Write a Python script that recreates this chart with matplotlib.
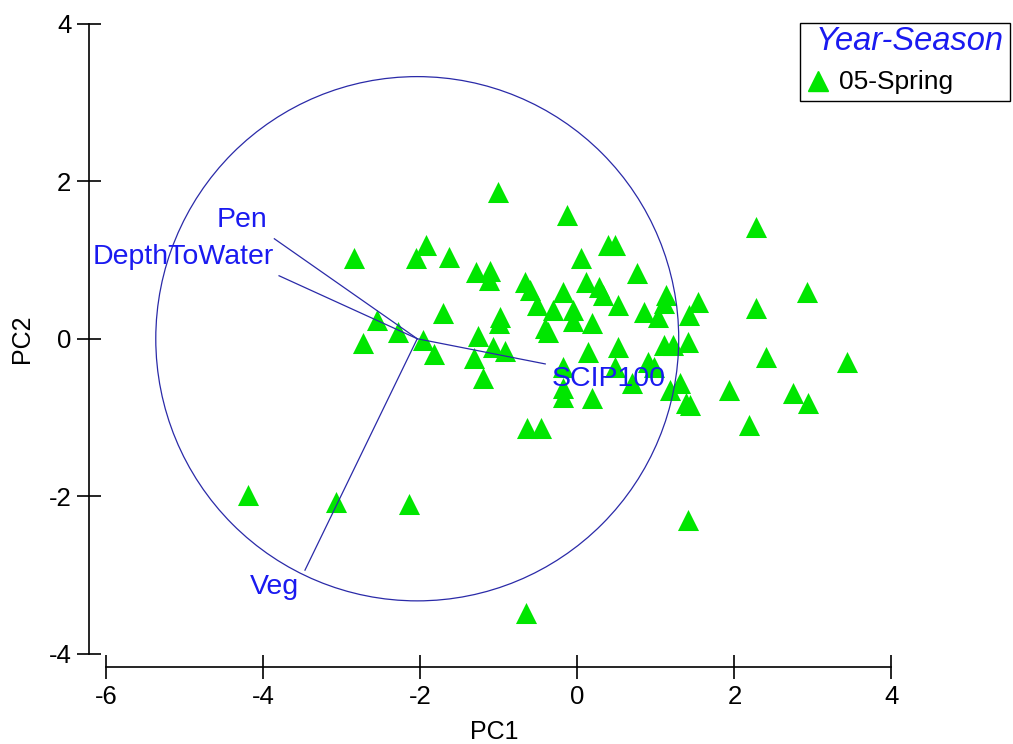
import matplotlib
matplotlib.use("Agg")
import matplotlib.pyplot as plt
from matplotlib.patches import Circle, Rectangle
import numpy as np

plt.rcParams['font.family'] = ['Liberation Sans', 'DejaVu Sans']
plt.rcParams['axes.unicode_minus'] = False

# PCA scores, 05-Spring
pc1 = [-1.01, -0.13, 2.27, 0.39, 0.48, -1.93, -2.05, -2.85, -1.63, 0.04,
       -1.29, -1.11, -1.13, 0.76, -0.67, -0.60, 0.11, 0.27, 0.32, -0.18,
       1.13, 1.10, 1.54, 2.92, 0.52, -0.51, -0.31, -0.06, 0.85, 1.02,
       1.42, 2.27, -1.71, -0.99, -1.00, -2.55, 0.19, -0.05, -0.41, -0.37,
       -2.29, -2.73, -1.97, -1.27, -1.83, -1.07, -0.92, -1.32, 0.14, 0.52,
       1.10, 1.22, 1.41, 2.40, 3.43, -1.20, -0.18, 0.48, 0.90, 0.97,
       0.70, 1.18, 1.31, 1.93, 2.75, 2.94, -0.19, -0.18, 0.19, 1.38,
       1.44, 2.18, -0.64, -0.47, -4.19, -3.08, -2.14, 1.41, -0.66]
pc2 = [1.87, 1.57, 1.42, 1.19, 1.19, 1.19, 1.02, 1.02, 1.04, 1.03,
       0.85, 0.86, 0.75, 0.84, 0.72, 0.62, 0.72, 0.66, 0.56, 0.60,
       0.56, 0.46, 0.47, 0.60, 0.43, 0.43, 0.37, 0.37, 0.34, 0.28,
       0.30, 0.39, 0.33, 0.28, 0.20, 0.24, 0.20, 0.22, 0.14, 0.08,
       0.09, -0.05, -0.02, 0.03, -0.20, -0.11, -0.16, -0.24, -0.17, -0.10,
       -0.08, -0.08, -0.04, -0.23, -0.29, -0.50, -0.36, -0.36, -0.29, -0.36,
       -0.56, -0.65, -0.56, -0.65, -0.69, -0.81, -0.74, -0.62, -0.75, -0.81,
       -0.84, -1.09, -1.13, -1.13, -1.98, -2.07, -2.10, -2.30, -3.48]

# loading vectors (origin at circle centre)
origin = (-2.04, 0.0)
vec_names = ['Pen', 'DepthToWater', 'SCIP100', 'Veg']
vec_x = [-3.86, -3.80, -0.41, -3.47]
vec_y = [1.27, 0.80, -0.32, -2.94]
radius = 3.33

# label anchor for each vector name
lab_x = [-3.95, -3.86, -0.33, -3.54]
lab_y = [1.51, 1.04, -0.51, -3.15]
lab_ha = ['right', 'right', 'left', 'right']

legend_title = 'Year-Season'
legend_label = '05-Spring'

line_col = '#2a2aa8'
text_col = '#1a1af0'
green = '#00e600'

W, H = 1013, 744
fig = plt.figure(figsize=(W / 100, H / 100), dpi=100)
ax = fig.add_axes([0.0879, 0.1035, 0.8154, 0.875])

ax.scatter(pc1, pc2, marker='^', s=230, color=green, linewidths=0, zorder=2)

ax.add_patch(Circle(origin, radius, fill=False, edgecolor=line_col, lw=0.9, zorder=3))
for vx, vy in zip(vec_x, vec_y):
    ax.plot([origin[0], vx], [origin[1], vy], color=line_col, lw=0.9, zorder=3)

for name, tx, ty, ha in zip(vec_names, lab_x, lab_y, lab_ha):
    ax.text(tx, ty, name, color=text_col, fontsize=20.5, ha=ha, va='center', zorder=4)

ax.set_xlim(-6.22, 4.3)
ax.set_ylim(-4.17, 4.1)
ax.set_xticks([-6, -4, -2, 0, 2, 4])
ax.set_yticks([-4, -2, 0, 2, 4])

for side in ['top', 'right']:
    ax.spines[side].set_visible(False)
ax.spines['left'].set_bounds(-4, 4)
ax.spines['bottom'].set_bounds(-6, 4)
for side in ['left', 'bottom']:
    ax.spines[side].set_linewidth(1.2)
ax.tick_params(direction='inout', length=17.5, width=1.2, labelsize=18.5, pad=4)

ax.set_xlabel('PC1', fontsize=18)
ax.set_ylabel('PC2', fontsize=18)
ax.xaxis.set_label_coords(0.49, -0.081)
ax.yaxis.set_label_coords(-0.067, 0.504)

# legend box drawn by hand (figure pixel positions)
fx = lambda px: px / W
fy = lambda py: 1 - py / H
fig.patches.append(Rectangle((fx(800), fy(101)), fx(1010) - fx(800), fy(23) - fy(101),
                             transform=fig.transFigure, facecolor='white',
                             edgecolor='black', lw=1.0))
fig.text(fx(816), fy(42), legend_title, color=text_col, fontsize=23.5,
         style='italic', ha='left', va='center')
fig.lines.append(plt.Line2D([fx(818)], [fy(81)], marker='^', markersize=15,
                            color=green, linestyle='none', transform=fig.transFigure))
fig.text(fx(839), fy(82), legend_label, color='black', fontsize=19,
         ha='left', va='center')

fig.savefig('out.png', dpi=100)
